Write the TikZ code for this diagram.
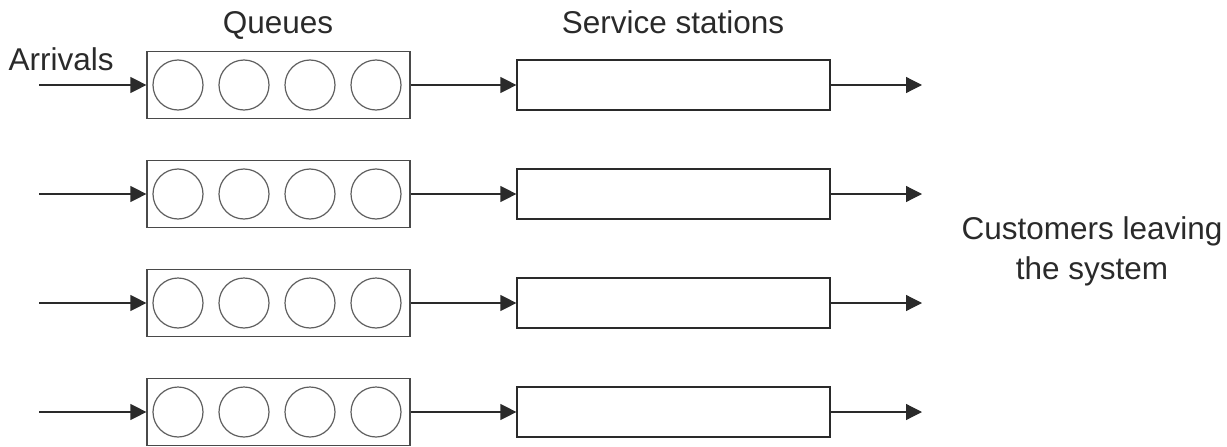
\documentclass[tikz,border=0pt]{standalone}
\usepackage{fontspec}
\setmainfont{Liberation Sans}
\usetikzlibrary{arrows.meta}
\definecolor{ink}{HTML}{2A2A2A}
\begin{document}
\begin{tikzpicture}[x=1pt, y=-1pt, line width=1.2pt, draw=ink,
    queue/.style={draw=ink!85, minimum width=263pt, minimum height=67pt, inner sep=0pt},
    slot/.style={circle, draw=ink!75, minimum size=50pt, inner sep=0pt},
    station/.style={draw=ink, minimum width=313pt, minimum height=50pt, inner sep=0pt},
    flow/.style={-{Triangle[length=16pt, width=16pt]}, ink},
    lbl/.style={text=ink, font=\fontsize{31.5}{40}\selectfont, inner sep=0pt}]
    \useasboundingbox (0,0) rectangle (1227,447);

    % headings
    \node[lbl, anchor=base] (hq) at (278,34) {Queues};
    \node[lbl, anchor=base] (hs) at (673,34) {Service stations};
    \node[lbl, anchor=base west] (arr) at (8,70) {Arrivals};
    \node[lbl, align=center] (out) at (1092,251) {Customers leaving\\the system};

    % one line per row: queue -> station
    \foreach \i/\y in {1/85, 2/194, 3/303, 4/412} {
        \coordinate (a\i) at (39,\y);
        \node[queue] (q\i) at (278.5,\y) {};
        \foreach \j/\x in {1/178, 2/244, 3/310, 4/376}
            \node[slot] (c\i\j) at (\x,\y) {};
        \node[station] (s\i) at (673.5,\y) {};
        \coordinate (e\i) at (922,\y);
        \draw[flow] (a\i) -- (q\i.west);
        \draw[flow] (q\i.east) -- (s\i.west);
        \draw[flow] (s\i.east) -- (e\i);
    }
\end{tikzpicture}
\end{document}
